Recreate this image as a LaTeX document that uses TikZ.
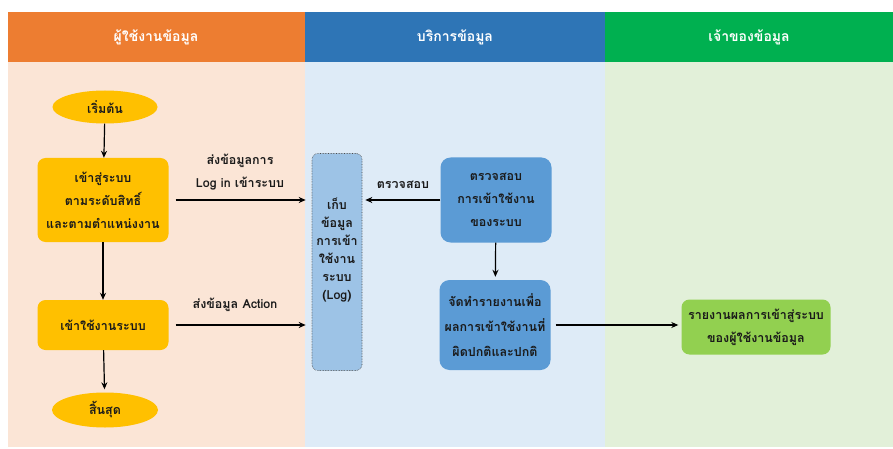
\documentclass[tikz,border=0pt]{standalone}
\usepackage{fontspec}
\newfontfamily\thaifont[Script=Thai]{Loma}
\usetikzlibrary{shapes.geometric,arrows.meta}
\definecolor{hdor}{HTML}{ED7D31}
\definecolor{hdbl}{HTML}{2E75B6}
\definecolor{hdgr}{HTML}{00B050}
\definecolor{lnor}{HTML}{FBE5D6}
\definecolor{lnbl}{HTML}{DEEBF7}
\definecolor{lngr}{HTML}{E2F0D9}
\definecolor{yel}{HTML}{FFC000}
\definecolor{mbl}{HTML}{5B9BD5}
\definecolor{pbl}{HTML}{9DC3E6}
\definecolor{ggr}{HTML}{92D050}
\definecolor{txt}{HTML}{1A1A1A}
\begin{document}
\begin{tikzpicture}[x=1pt,y=-1pt,
  font=\thaifont\bfseries\fontsize{12.5}{23}\selectfont,
  headtxt/.style={text=white,font=\thaifont\bfseries\fontsize{14}{16}\selectfont},
  term/.style={ellipse,fill=yel,text=txt,inner sep=0pt},
  ybox/.style={rectangle,rounded corners=8pt,fill=yel,text=txt,align=center,inner sep=0pt,minimum width=131pt},
  bbox/.style={rectangle,rounded corners=10pt,fill=mbl,text=txt,align=center,inner sep=0pt,minimum width=111pt},
  logbox/.style={rectangle,rounded corners=6pt,fill=pbl,draw=black!70,densely dotted,line width=0.6pt,minimum width=50pt,minimum height=217pt},
  gbox/.style={rectangle,rounded corners=8pt,fill=ggr,text=txt,align=center,inner sep=0pt,minimum width=149pt,minimum height=55pt},
  lbltxt/.style={text=txt,align=center,inner sep=0pt},
  arr/.style={draw=black,line width=1.2pt,-{Stealth[length=7pt,width=6pt]}}
]
\useasboundingbox (0,0) rectangle (893,449);
\fill[white] (0,0) rectangle (893,449);
\fill[lnor] (8,62) rectangle (305,447);
\fill[lnbl] (305,62) rectangle (605,447);
\fill[lngr] (605,62) rectangle (893,447);
\fill[hdor] (8,12) rectangle (305,62);
\fill[hdbl] (305,12) rectangle (605,62);
\fill[hdgr] (605,12) rectangle (893,62);
\node[headtxt] (h1) at (156,37) {ผู้ใช้งานข้อมูล};
\node[headtxt] (h2) at (455,37) {บริการข้อมูล};
\node[headtxt] (h3) at (749,37) {เจ้าของข้อมูล};

\node[term,minimum width=105pt,minimum height=33pt] (start) at (105,107) {เริ่มต้น};
\node[ybox,minimum height=84pt] (login) at (103,200) {เข้าสู่ระบบ\\ตามระดับสิทธิ์\\และตามตำแหน่งงาน};
\node[ybox,minimum height=50pt] (use) at (103,325) {เข้าใช้งานระบบ};
\node[term,minimum width=106pt,minimum height=35pt] (end) at (105,410) {สิ้นสุด};

\node[logbox] (log) at (337,262) {};
\node[lbltxt,font=\thaifont\bfseries\fontsize{12.5}{18}\selectfont] (logtxt) at (337,250) {เก็บ\\ข้อมูล\\การเข้า\\ใช้งาน\\ระบบ\\(Log)};

\node[bbox,minimum height=85pt] (chk) at (496,200) {ตรวจสอบ\\การเข้าใช้งาน\\ของระบบ};
\node[bbox,minimum height=90pt,font=\thaifont\bfseries\fontsize{12.5}{25}\selectfont] (rep) at (495,325) {จัดทำรายงานเพื่อ\\ผลการเข้าใช้งานที่\\ผิดปกติและปกติ};
\node[gbox] (own) at (756,327) {รายงานผลการเข้าสู่ระบบ\\ของผู้ใช้งานข้อมูล};

\draw[arr] (start) -- (login);
\draw[arr] (login) -- (use);
\draw[arr,shorten >=3pt] (use) -- (end);
\draw[arr,shorten <=7pt,shorten >=6pt] (login.east) -- (login.east -| log.west);
\draw[arr,shorten <=7pt,shorten >=6pt] (use.east) -- (use.east -| log.west);
\draw[arr,shorten >=3pt] (chk.west) -- (chk.west -| log.east);
\draw[arr,shorten >=3pt] (chk) -- (rep);
\draw[arr,shorten <=5pt,shorten >=3pt] (rep.east) -- (rep.east -| own.west);

\node[lbltxt] (l1) at (240,172) {ส่งข้อมูลการ\\Log in เข้าระบบ};
\node[lbltxt] (l2) at (235,305) {ส่งข้อมูล Action};
\node[lbltxt] (l3) at (403,185) {ตรวจสอบ};
\end{tikzpicture}
\end{document}
